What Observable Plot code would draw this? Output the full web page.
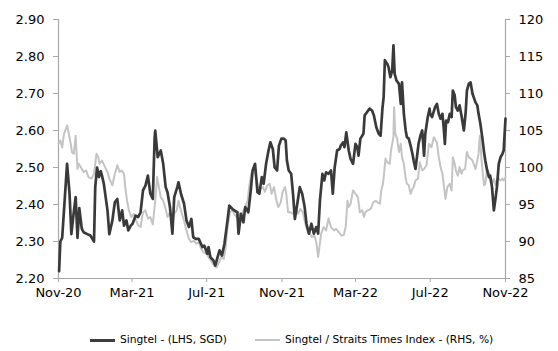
<!DOCTYPE html>
<html>
<head>
<meta charset="utf-8">
<script src="https://cdn.jsdelivr.net/npm/d3@7"></script>
<script src="https://cdn.jsdelivr.net/npm/@observablehq/plot@0.6"></script>
<style>
  body { margin: 0; background: #fff; font-family: "DejaVu Sans", sans-serif; }
  #chart { width: 558px; height: 305px; }
  #legend { position: relative; width: 558px; height: 46px; font-size: 10.7px; color: #000; }
  #legend .item { position: absolute; top: 28px; height: 14px; line-height: 14px; display: flex; align-items: center; white-space: nowrap; }
  #legend .swatch { display: inline-block; width: 25px; margin-right: 5px; }
  #legend .dark { border-top: 3px solid #3d3d3d; }
  #legend .light { border-top: 2px solid #c4c4c4; }
</style>
</head>
<body>
<div id="chart"></div>
<div id="legend">
  <div class="item" style="left:90px"><span class="swatch dark"></span>Singtel - (LHS, SGD)</div>
  <div class="item" style="left:255px"><span class="swatch light"></span>Singtel / Straits Times Index - (RHS, %)</div>
</div>
<script>
// Singtel share price, SGD (left axis)
const priceDates = ["2020-11-02","2020-11-04","2020-11-07","2020-11-15","2020-11-19","2020-11-22","2020-11-26","2020-11-29","2020-12-02","2020-12-05","2020-12-09","2020-12-12","2020-12-18","2020-12-23","2020-12-29","2020-12-31",
"2021-01-03","2021-01-06","2021-01-09","2021-01-11","2021-01-14","2021-01-20","2021-01-23","2021-01-28","2021-02-01","2021-02-05","2021-02-09","2021-02-13","2021-02-16","2021-02-20","2021-02-23","2021-02-27",
"2021-03-02","2021-03-07","2021-03-11","2021-03-15","2021-03-19","2021-03-23","2021-03-27","2021-03-31","2021-04-04","2021-04-07","2021-04-08","2021-04-12","2021-04-17","2021-04-21","2021-04-25","2021-04-28",
"2021-05-02","2021-05-06","2021-05-09","2021-05-14","2021-05-16","2021-05-20","2021-05-25","2021-05-29","2021-06-02","2021-06-06","2021-06-09","2021-06-13","2021-06-18","2021-06-24","2021-06-27",
"2021-07-02","2021-07-04","2021-07-07","2021-07-12","2021-07-15","2021-07-18","2021-07-22","2021-07-26","2021-07-30","2021-08-04","2021-08-07","2021-08-12","2021-08-15","2021-08-20","2021-08-22","2021-08-26","2021-08-30",
"2021-09-02","2021-09-07","2021-09-11","2021-09-14","2021-09-18","2021-09-22","2021-09-25","2021-09-29","2021-10-02","2021-10-06","2021-10-10","2021-10-13","2021-10-17","2021-10-20","2021-10-24","2021-10-27","2021-10-31",
"2021-11-04","2021-11-07","2021-11-09","2021-11-12","2021-11-16","2021-11-19","2021-11-22","2021-11-26","2021-11-30","2021-12-04","2021-12-08","2021-12-11","2021-12-15","2021-12-19","2021-12-23","2021-12-27","2021-12-30",
"2022-01-02","2022-01-06","2022-01-09","2022-01-12","2022-01-16","2022-01-20","2022-01-23","2022-01-26","2022-01-30","2022-02-03","2022-02-05","2022-02-09","2022-02-11","2022-02-14","2022-02-18","2022-02-21","2022-02-25",
"2022-03-01","2022-03-04","2022-03-06","2022-03-09","2022-03-14","2022-03-16","2022-03-20","2022-03-24","2022-03-28","2022-03-31","2022-04-04","2022-04-08","2022-04-11","2022-04-14","2022-04-16","2022-04-18","2022-04-22","2022-04-24","2022-04-27","2022-04-30",
"2022-05-02","2022-05-04","2022-05-07","2022-05-11","2022-05-14","2022-05-16","2022-05-19","2022-05-22","2022-05-24","2022-05-27","2022-05-30","2022-06-02","2022-06-04","2022-06-07","2022-06-10","2022-06-12","2022-06-15","2022-06-18","2022-06-21","2022-06-23","2022-06-27","2022-06-30",
"2022-07-01","2022-07-04","2022-07-09","2022-07-12","2022-07-15","2022-07-18","2022-07-21","2022-07-23","2022-07-25","2022-07-27","2022-07-30","2022-08-02","2022-08-05","2022-08-07","2022-08-10","2022-08-12","2022-08-15","2022-08-18","2022-08-21","2022-08-25","2022-08-28","2022-08-30",
"2022-09-02","2022-09-05","2022-09-08","2022-09-10","2022-09-13","2022-09-16","2022-09-18","2022-09-21","2022-09-24","2022-09-27","2022-09-29","2022-10-02","2022-10-05","2022-10-07","2022-10-10","2022-10-13","2022-10-16","2022-10-18","2022-10-21","2022-10-24","2022-10-27","2022-10-29","2022-11-01"];
const priceSGD = [2.22,2.30,2.31,2.51,2.43,2.32,2.38,2.42,2.31,2.39,2.335,2.325,2.32,2.316,2.30,2.447,
2.50,2.474,2.49,2.478,2.456,2.384,2.32,2.357,2.406,2.415,2.357,2.384,2.343,2.357,2.33,2.343,
2.348,2.37,2.366,2.379,2.438,2.451,2.478,2.429,2.415,2.58,2.60,2.528,2.546,2.51,2.447,2.433,
2.393,2.321,2.42,2.447,2.46,2.429,2.402,2.357,2.339,2.361,2.312,2.307,2.307,2.285,2.289,
2.267,2.285,2.258,2.249,2.235,2.253,2.276,2.262,2.294,2.357,2.397,2.388,2.384,2.379,2.321,2.375,2.352,
2.393,2.379,2.438,2.492,2.51,2.433,2.429,2.474,2.456,2.51,2.546,2.568,2.55,2.50,2.492,2.559,2.578,
2.578,2.573,2.519,2.492,2.483,2.429,2.361,2.402,2.447,2.429,2.393,2.348,2.321,2.348,2.321,2.339,2.321,
2.411,2.483,2.465,2.487,2.483,2.492,2.429,2.50,2.546,2.55,2.559,2.568,2.555,2.595,2.546,2.523,2.51,
2.564,2.555,2.532,2.578,2.591,2.641,2.65,2.659,2.654,2.641,2.609,2.591,2.586,2.659,2.69,2.79,2.78,2.771,2.744,2.762,
2.83,2.753,2.735,2.726,2.672,2.73,2.645,2.60,2.582,2.578,2.559,2.537,2.519,2.496,2.537,2.564,2.586,2.60,2.532,2.591,2.636,2.659,
2.645,2.636,2.663,2.672,2.645,2.632,2.645,2.609,2.564,2.627,2.622,2.645,2.636,2.708,2.695,2.663,2.654,2.668,2.641,2.60,2.65,2.708,
2.726,2.73,2.70,2.69,2.676,2.668,2.645,2.618,2.582,2.541,2.519,2.492,2.474,2.478,2.447,2.384,2.42,2.447,2.51,2.528,2.537,2.546,2.632];

// Singtel relative to the Straits Times Index, % (right axis)
const ratioDates = ["2020-11-01","2020-11-04","2020-11-07","2020-11-10","2020-11-12","2020-11-15","2020-11-18","2020-11-21","2020-11-23","2020-11-26","2020-11-29","2020-12-02","2020-12-04","2020-12-09","2020-12-12","2020-12-16","2020-12-20","2020-12-25","2020-12-29",
"2021-01-02","2021-01-05","2021-01-07","2021-01-11","2021-01-16","2021-01-20","2021-01-23","2021-01-28","2021-02-01","2021-02-05","2021-02-09","2021-02-12","2021-02-16","2021-02-18","2021-02-21","2021-02-24","2021-02-28",
"2021-03-04","2021-03-08","2021-03-11","2021-03-15","2021-03-19","2021-03-23","2021-03-27","2021-03-31","2021-04-04","2021-04-08","2021-04-11","2021-04-14","2021-04-17","2021-04-21","2021-04-25","2021-04-28",
"2021-05-02","2021-05-06","2021-05-09","2021-05-13","2021-05-16","2021-05-20","2021-05-25","2021-05-29","2021-06-02","2021-06-06","2021-06-10","2021-06-14","2021-06-18","2021-06-22","2021-06-26",
"2021-07-01","2021-07-04","2021-07-08","2021-07-13","2021-07-17","2021-07-21","2021-07-25","2021-07-29","2021-08-01","2021-08-04","2021-08-08","2021-08-12","2021-08-15","2021-08-19","2021-08-22","2021-08-26","2021-08-30",
"2021-09-02","2021-09-06","2021-09-09","2021-09-12","2021-09-16","2021-09-19","2021-09-23","2021-09-27","2021-10-01","2021-10-04","2021-10-08","2021-10-12","2021-10-15","2021-10-19","2021-10-23","2021-10-26","2021-10-30",
"2021-11-02","2021-11-06","2021-11-08","2021-11-11","2021-11-15","2021-11-19","2021-11-23","2021-11-27","2021-12-01","2021-12-05","2021-12-08","2021-12-12","2021-12-16","2021-12-20","2021-12-24","2021-12-27","2021-12-30",
"2022-01-01","2022-01-04","2022-01-08","2022-01-12","2022-01-16","2022-01-20","2022-01-25","2022-01-28","2022-02-02","2022-02-06","2022-02-10","2022-02-13","2022-02-16","2022-02-18","2022-02-21","2022-02-25",
"2022-03-01","2022-03-05","2022-03-08","2022-03-12","2022-03-15","2022-03-17","2022-03-21","2022-03-26","2022-03-30","2022-04-03","2022-04-06","2022-04-10","2022-04-12","2022-04-15","2022-04-19","2022-04-22","2022-04-26","2022-04-28",
"2022-05-02","2022-05-03","2022-05-05","2022-05-08","2022-05-11","2022-05-14","2022-05-16","2022-05-19","2022-05-22","2022-05-24","2022-05-27","2022-05-30","2022-06-02","2022-06-04","2022-06-07","2022-06-11","2022-06-14","2022-06-18","2022-06-21","2022-06-25","2022-06-29",
"2022-07-03","2022-07-07","2022-07-10","2022-07-12","2022-07-15","2022-07-18","2022-07-21","2022-07-23","2022-07-26","2022-07-29","2022-08-02","2022-08-05","2022-08-07","2022-08-10","2022-08-12","2022-08-15","2022-08-18","2022-08-21","2022-08-23","2022-08-27","2022-08-30",
"2022-09-02","2022-09-05","2022-09-08","2022-09-10","2022-09-13","2022-09-16","2022-09-18","2022-09-20","2022-09-23","2022-09-25","2022-09-27","2022-09-29","2022-10-02","2022-10-05","2022-10-07","2022-10-10","2022-10-13","2022-10-16","2022-10-18","2022-10-21","2022-10-24","2022-10-27","2022-10-29","2022-11-01"];
const ratioPct = [103.2,103.65,102.7,104.55,105.0,105.7,104.55,103.2,102.07,101.85,104.3,99.8,100.5,99.8,99.4,99.6,98.7,98.5,99.15,
101.85,101.4,100.5,100.95,100.05,99.4,98.5,97.6,99.15,100.3,99.4,99.6,99.15,97.35,95.5,94.2,93.3,
93.75,92.8,92.2,91.95,93.95,94.2,93.1,93.3,92.3,95.5,98.7,97.35,96.0,95.5,94.4,93.3,
93.95,92.8,93.75,94.2,95.5,94.2,92.8,91.5,90.35,89.9,90.1,89.7,89.9,89.0,88.55,
88.3,87.9,87.4,86.75,86.5,87.2,87.9,87.65,89.2,91.95,93.95,94.2,93.75,93.3,93.95,93.1,94.2,
94.65,95.6,97.8,99.15,100.05,98.9,97.35,97.1,97.35,96.7,97.6,97.8,96.45,97.35,95.5,94.65,95.3,
96.7,97.35,96.45,93.95,93.95,93.75,94.65,93.75,94.4,93.95,92.8,91.5,91.05,90.6,90.8,89.9,87.9,
89.2,91.05,91.95,91.5,93.1,91.95,91.5,91.7,91.25,90.8,90.9,91.95,95.5,94.65,95.1,96.9,
96.45,96.0,93.95,94.2,93.3,93.95,94.2,94.4,95.3,95.5,95.3,95.1,96.9,97.8,101.2,100.7,100.5,102.3,
104.1,108.15,104.55,103.9,102.1,103.2,101.4,100.5,98.5,97.8,97.6,96.45,97.1,97.35,98.25,98.5,100.7,99.6,99.8,100.3,103.2,
102.75,104.1,103.65,103.4,101.4,100.05,99.15,97.8,95.75,97.35,97.8,96.9,101.4,100.5,99.6,98.9,100.05,99.15,99.6,99.8,102.1,
101.4,101.2,100.95,100.5,99.8,100.95,101.85,104.3,100.95,99.15,97.6,97.8,99.8,99.15,98.25,97.8,98.5,97.6,98.25,98.5,98.25,98.5,98.25,98.7];

// Axis ticks
const priceTicks = [2.20, 2.30, 2.40, 2.50, 2.60, 2.70, 2.80, 2.90];
const ratioTicks = [85, 90, 95, 100, 105, 110, 115, 120];
const monthTicks = ["2020-11-01","2021-03-01","2021-07-01","2021-11-01","2022-03-01","2022-07-01","2022-11-01"];
const monthLabels = ["Nov-20","Mar-21","Jul-21","Nov-21","Mar-22","Jul-22","Nov-22"];

const parse = d3.utcParse("%Y-%m-%d");
const axisGrey = "#a8a8a8";

// The right-hand series shares the left scale through a linear mapping
const [p0, p1] = d3.extent(priceTicks);
const [r0, r1] = d3.extent(ratioTicks);
const toLeft = v => p0 + (v - r0) * (p1 - p0) / (r1 - r0);

const price = priceDates.map((d, i) => ({date: parse(d), value: priceSGD[i]}));
const ratio = ratioDates.map((d, i) => ({date: parse(d), value: toLeft(ratioPct[i])}));
const xTicks = monthTicks.map(parse);
const xDomain = [xTicks[0], xTicks[xTicks.length - 1]];

const chart = Plot.plot({
  width: 558,
  height: 305,
  marginTop: 19,
  marginBottom: 27,
  marginLeft: 58,
  marginRight: 53,
  style: {fontFamily: "'DejaVu Sans', sans-serif", fontSize: "13px", color: "#000", background: "#fff", overflow: "visible"},
  x: {type: "utc", domain: xDomain},
  y: {domain: [p0, p1]},
  marks: [
    Plot.ruleX([xDomain[0]], {stroke: axisGrey, strokeWidth: 1.2}),
    Plot.ruleX([xDomain[1]], {stroke: axisGrey, strokeWidth: 1.2}),
    Plot.ruleY([p0], {stroke: axisGrey, strokeWidth: 1.2}),
    Plot.axisY(priceTicks, {anchor: "left", tickFormat: d3.format(".2f"), tickSize: 5, tickPadding: 9, stroke: axisGrey, fill: "#000", fontSize: 13, label: null}),
    Plot.axisY(ratioTicks.map(toLeft), {anchor: "right", tickFormat: (d, i) => String(ratioTicks[i]), tickSize: 4, tickPadding: 9, stroke: axisGrey, fill: "#000", fontSize: 13, label: null}),
    Plot.axisX(xTicks, {anchor: "bottom", tickFormat: (d, i) => monthLabels[i], tickSize: 4, tickPadding: 5, stroke: axisGrey, fill: "#000", fontSize: 13, label: null}),
    Plot.lineY(ratio, {x: "date", y: "value", stroke: "#c4c4c4", strokeWidth: 2}),
    Plot.lineY(price, {x: "date", y: "value", stroke: "#3a3a3a", strokeWidth: 2.7})
  ]
});
document.getElementById("chart").append(chart);
</script>
</body>
</html>
